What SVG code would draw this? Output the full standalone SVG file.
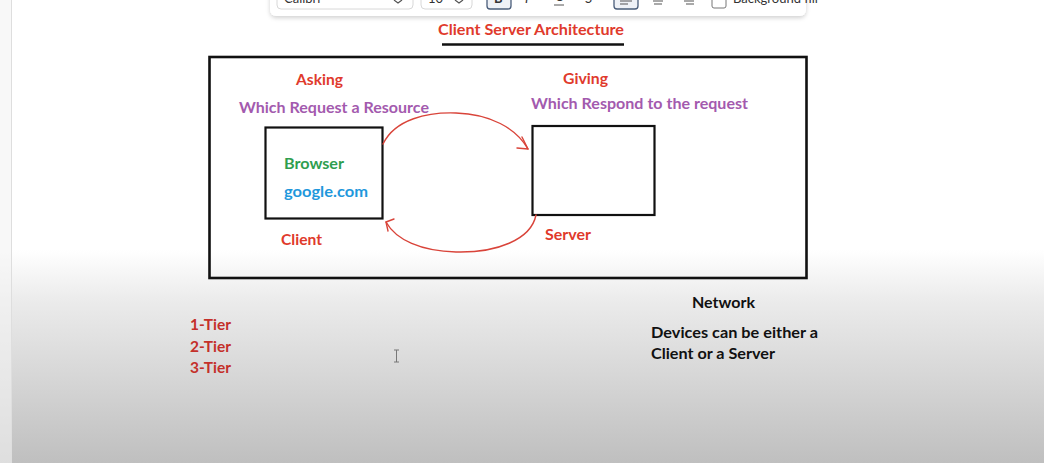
<svg xmlns="http://www.w3.org/2000/svg" width="1044" height="463" viewBox="0 0 1044 463">
<defs>
<linearGradient id="bg" x1="0" y1="0" x2="0" y2="463" gradientUnits="userSpaceOnUse">
<stop offset="0" stop-color="#ffffff"/>
<stop offset="0.54" stop-color="#ffffff"/>
<stop offset="0.65" stop-color="#ebebeb"/>
<stop offset="1" stop-color="#bfbfbf"/>
</linearGradient>
<filter id="sh" x="-5%" y="-50%" width="110%" height="200%">
<feDropShadow dx="0" dy="2" stdDeviation="2" flood-color="#000" flood-opacity="0.18"/>
</filter>
<style>
text{font-family:Lato,"Open Sans","Liberation Sans",sans-serif;font-weight:bold;font-size:15px}
.red{fill:#e03a2c}
.dred{fill:#c4302a}
.pur{fill:#a35aae}
.grn{fill:#2f9e4f}
.blu{fill:#1f98dc}
.blk{fill:#111}
.box{fill:none;stroke:#111;stroke-width:2.2}
.arc{fill:none;stroke:#d9443a;stroke-width:1.4;stroke-linecap:round;stroke-linejoin:round}
.tb text{font-weight:normal;font-size:13px;fill:#333}
.tbbox{fill:#fff;stroke:#d8d8d8;stroke-width:1}
.ico{stroke:#555;stroke-width:1.2;fill:none}
</style>
</defs>
<rect x="0" y="0" width="1044" height="463" fill="url(#bg)"/>
<rect x="0" y="0" width="11" height="463" fill="#f3f3f3" opacity="0.6"/>
<line x1="11.5" y1="0" x2="11.5" y2="463" stroke="#dedede" stroke-width="1"/>

<g id="toolbar" class="tb">
<rect x="270" y="-12" width="536" height="28" rx="6" fill="#fff" filter="url(#sh)"/>
<rect class="tbbox" x="277" y="-12" width="136" height="21" rx="4"/>
<text x="284" y="3">Calibri</text>
<path class="ico" d="M394,0 l4,3 l4,-3"/>
<rect class="tbbox" x="421" y="-12" width="51" height="21" rx="4"/>
<text x="428" y="3">10</text>
<path class="ico" d="M455,0 l4,3 l4,-3"/>
<rect x="487" y="-12" width="24" height="21" rx="3" fill="#eef1f6" stroke="#4a5d7a" stroke-width="1.3"/>
<text x="494" y="3" style="font-weight:bold">B</text>
<text x="525" y="3" style="font-style:italic">I</text>
<text x="555" y="1">U</text>
<line x1="554" y1="5" x2="564" y2="5" stroke="#555" stroke-width="1"/>
<text x="585" y="3">S</text>
<rect x="614" y="-12" width="24" height="21" rx="3" fill="#eef1f6" stroke="#4a5d7a" stroke-width="1.3"/>
<path class="ico" d="M620,1 h12 M620,4 h8"/>
<path class="ico" d="M653,1 h10 M654,4 h8"/>
<path class="ico" d="M684,1 h10 M686,4 h8"/>
<rect x="712" y="-6" width="14" height="14" rx="2" fill="#fff" stroke="#777" stroke-width="1"/>
<text x="733" y="3">Background fill</text>
</g>

<g id="title">
<text class="red" x="438" y="35" textLength="186" lengthAdjust="spacingAndGlyphs">Client Server Architecture</text>
<line x1="442" y1="44.5" x2="624" y2="44.5" stroke="#111" stroke-width="2.6"/>
</g>

<g id="network-frame">
<rect class="box" x="209.5" y="57" width="597" height="221" style="stroke-width:2.6"/>
</g>

<g id="client">
<rect class="box" x="265.5" y="127.5" width="117" height="91"/>
<text class="grn" x="284" y="169" textLength="60" lengthAdjust="spacingAndGlyphs">Browser</text>
<text class="blu" x="284" y="197" textLength="84" lengthAdjust="spacingAndGlyphs">google.com</text>
<text class="red" x="296" y="85" textLength="47" lengthAdjust="spacingAndGlyphs">Asking</text>
<text class="pur" x="239" y="113" textLength="190" lengthAdjust="spacingAndGlyphs">Which Request a Resource</text>
<text class="red" x="281" y="245" textLength="41" lengthAdjust="spacingAndGlyphs">Client</text>
</g>

<g id="server">
<rect class="box" x="532.5" y="126" width="122" height="89"/>
<text class="red" x="563" y="84" textLength="45" lengthAdjust="spacingAndGlyphs">Giving</text>
<text class="pur" x="531" y="109" textLength="217" lengthAdjust="spacingAndGlyphs">Which Respond to the request</text>
<text class="red" x="545" y="240" textLength="46" lengthAdjust="spacingAndGlyphs">Server</text>
</g>

<g id="connectors">
<path class="arc" d="M383,144 C395,119 428,112 456,113 C490,114 516,128 528,149"/>
<path class="arc" d="M522,137 L528,149 L517,148"/>
<path class="arc" d="M536,215 C531,240 496,253 456,252 C421,251 396,240 386,222"/>
<path class="arc" d="M394,219 L386,222 L388,231"/>
</g>

<g id="notes">
<text class="blk" x="692" y="308" textLength="63" lengthAdjust="spacingAndGlyphs">Network</text>
<text class="blk" x="651" y="338" textLength="167" lengthAdjust="spacingAndGlyphs">Devices can be either a</text>
<text class="blk" x="651" y="359" textLength="124" lengthAdjust="spacingAndGlyphs">Client or a Server</text>
<text class="dred" x="190" y="330" textLength="41" lengthAdjust="spacingAndGlyphs">1-Tier</text>
<text class="dred" x="190" y="352" textLength="41" lengthAdjust="spacingAndGlyphs">2-Tier</text>
<text class="dred" x="190" y="373" textLength="41" lengthAdjust="spacingAndGlyphs">3-Tier</text>
</g>

<g id="cursor">
<path d="M394,350 h5 M396.5,350 v12 M394,362 h5" stroke="#777" stroke-width="1" fill="none"/>
</g>
</svg>
